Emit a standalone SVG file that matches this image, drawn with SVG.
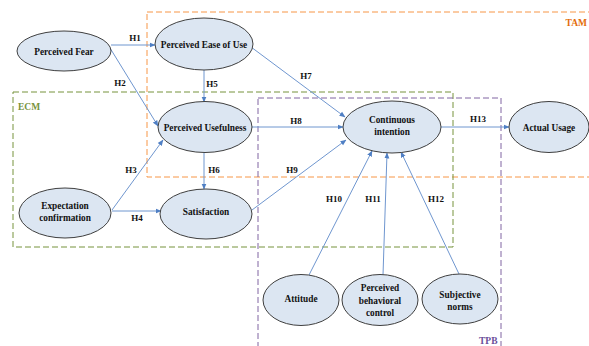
<svg xmlns="http://www.w3.org/2000/svg" width="589" height="346" viewBox="0 0 589 346">
<style>
.node ellipse{fill:#DCE6F2;stroke:#3F3F3F;stroke-width:1}
.node text{font-family:"Liberation Serif",serif;font-weight:bold;font-size:9.3px;fill:#111;text-anchor:middle}
.lbl{font-family:"Liberation Serif",serif;font-weight:bold;font-size:9px;fill:#111;text-anchor:middle}
.edge{stroke:#6F96CF;stroke-width:1;fill:none;marker-end:url(#arr)}
.box{fill:none;stroke-width:1;stroke-dasharray:6 3}
.blbl{font-family:"Liberation Serif",serif;font-weight:bold;font-size:9.5px}
</style>
<defs>
<marker id="arr" markerWidth="6" markerHeight="6" refX="5.5" refY="3" orient="auto" markerUnits="userSpaceOnUse">
<path d="M0,0.5 L6,3 L0,5.5 Z" fill="#4F7FC4"/>
</marker>
</defs>
<rect width="589" height="346" fill="#fff"/>
<g id="frames">
<rect class="box" x="147" y="12" width="460" height="165" stroke="#F79646"/>
<text class="blbl" x="587" y="26" fill="#E36C09" text-anchor="end">TAM</text>
<rect class="box" x="13" y="92" width="440" height="155" stroke="#77933C"/>
<text class="blbl" x="18" y="110" fill="#77933C">ECM</text>
<rect class="box" x="258" y="98" width="243" height="260" stroke="#8064A2"/>
<text class="blbl" x="479" y="344" fill="#6B4E9A">TPB</text>
</g>
<g id="connectors">
<line class="edge" x1="111" y1="45" x2="155" y2="45"/>
<line class="edge" x1="110" y1="48" x2="158" y2="126"/>
<line class="edge" x1="204" y1="70" x2="204" y2="102"/>
<line class="edge" x1="251" y1="47" x2="345" y2="117"/>
<line class="edge" x1="252" y1="127" x2="343" y2="127"/>
<line class="edge" x1="112" y1="210" x2="163" y2="140"/>
<line class="edge" x1="112" y1="211" x2="161" y2="211"/>
<line class="edge" x1="204" y1="153" x2="204" y2="189"/>
<line class="edge" x1="252" y1="210" x2="346" y2="140"/>
<line class="edge" x1="441" y1="127" x2="509" y2="127"/>
<line class="edge" x1="309" y1="275" x2="372" y2="151"/>
<line class="edge" x1="383" y1="275" x2="387" y2="153"/>
<line class="edge" x1="459" y1="274" x2="401" y2="152"/>
<text class="lbl" x="135" y="41">H1</text>
<text class="lbl" x="120" y="86">H2</text>
<text class="lbl" x="212" y="87">H5</text>
<text class="lbl" x="306" y="79">H7</text>
<text class="lbl" x="296" y="124">H8</text>
<text class="lbl" x="131" y="173">H3</text>
<text class="lbl" x="137" y="221">H4</text>
<text class="lbl" x="214" y="173">H6</text>
<text class="lbl" x="292" y="173">H9</text>
<text class="lbl" x="478" y="122">H13</text>
<text class="lbl" x="334" y="202">H10</text>
<text class="lbl" x="373" y="202">H11</text>
<text class="lbl" x="436" y="202">H12</text>
</g>
<g id="perceived-fear" class="node"><ellipse cx="64" cy="51" rx="47" ry="20"/><text x="64" y="54.5">Perceived Fear</text></g>
<g id="perceived-ease-of-use" class="node"><ellipse cx="204" cy="44" rx="49" ry="26"/><text x="204" y="47.5">Perceived Ease of Use</text></g>
<g id="perceived-usefulness" class="node"><ellipse cx="205" cy="127" rx="47" ry="25.5"/><text x="205" y="130.5">Perceived Usefulness</text></g>
<g id="continuous-intention" class="node"><ellipse cx="392" cy="127" rx="49" ry="26"/><text x="392" y="123">Continuous</text><text x="392" y="134.5">intention</text></g>
<g id="actual-usage" class="node"><ellipse cx="549" cy="127" rx="40" ry="25.5"/><text x="549" y="130.5">Actual Usage</text></g>
<g id="expectation-confirmation" class="node"><ellipse cx="65" cy="213" rx="46" ry="25"/><text x="65" y="209">Expectation</text><text x="65" y="221">confirmation</text></g>
<g id="satisfaction" class="node"><ellipse cx="206" cy="214" rx="46" ry="25"/><text x="206" y="215">Satisfaction</text></g>
<g id="attitude" class="node"><ellipse cx="301" cy="300" rx="38" ry="25.5"/><text x="301" y="302">Attitude</text></g>
<g id="perceived-behavioral-control" class="node"><ellipse cx="380" cy="300" rx="38" ry="25.5"/><text x="380" y="291">Perceived</text><text x="380" y="303.5">behavioral</text><text x="380" y="316">control</text></g>
<g id="subjective-norms" class="node"><ellipse cx="460" cy="299" rx="38" ry="25"/><text x="460" y="298">Subjective</text><text x="460" y="309.5">norms</text></g>
</svg>
